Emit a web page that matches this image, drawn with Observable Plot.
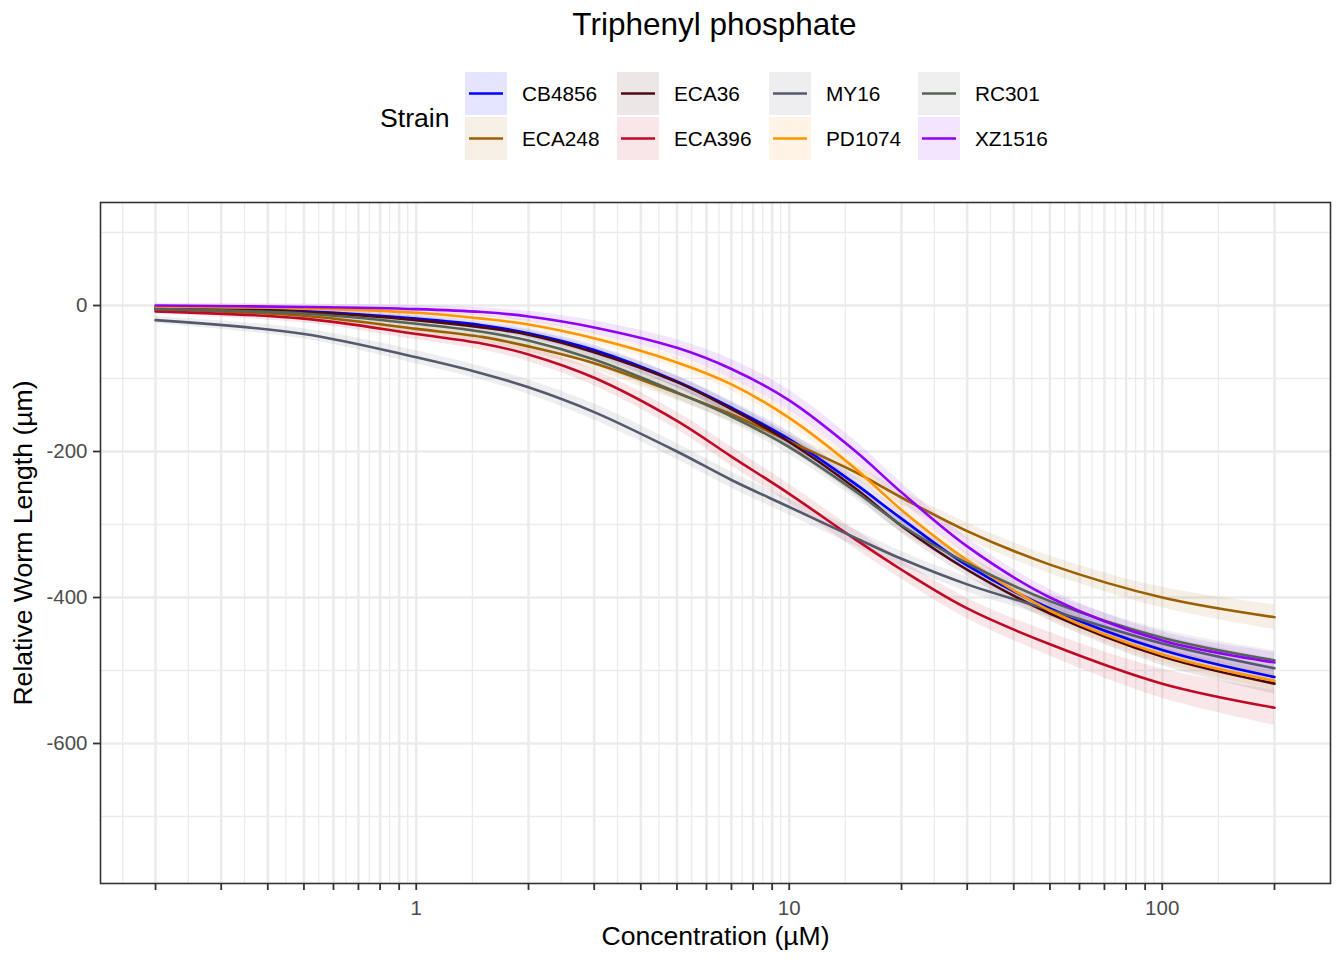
<!DOCTYPE html>
<html>
<head>
<meta charset="utf-8">
<script src="https://cdn.jsdelivr.net/npm/d3@7"></script>
<script src="https://cdn.jsdelivr.net/npm/@observablehq/plot@0.6"></script>
<style>
  body { margin: 0; background: #ffffff; font-family: "Liberation Sans", Arial, Helvetica, sans-serif; }
  #wrap { width: 1344px; }
  #header { display: block; }
</style>
</head>
<body>
<div id="wrap"></div>
<script>
// ---------------- data ----------------
const conc = [0.2, 0.5, 1, 1.5, 2, 3, 5, 7, 10, 15, 20, 30, 50, 100, 200];

const strains = ["CB4856", "ECA248", "ECA36", "ECA396", "MY16", "PD1074", "RC301", "XZ1516"];
const strainColors = ["#0000FF", "#9C5F00", "#4E0A12", "#BF0A26", "#55596C", "#FF9500", "#566357", "#8F00F5"];

const yCB4856 = [-3, -8, -18, -27, -38, -61, -104, -140, -183, -244, -292, -356, -415, -472, -509];
const yECA248 = [-5, -14, -32, -43, -56, -79, -120, -149, -186, -228, -263, -309, -355, -400, -427];
const yECA36  = [-4, -9, -20, -30, -40, -64, -105, -142, -187, -250, -302, -362, -422, -481, -518];
const yECA396 = [-8, -18, -39, -52, -67, -99, -158, -207, -258, -320, -362, -415, -464, -518, -551];
const yMY16   = [-20, -39, -71, -93, -112, -146, -200, -239, -276, -318, -347, -382, -417, -463, -497];
const yPD1074 = [-1.5, -4, -10, -18, -26, -45, -78, -108, -154, -223, -280, -349, -418, -478, -514];
const yRC301  = [-5, -11, -25, -36, -48, -74, -119, -152, -194, -254, -301, -353, -405, -455, -486];
const yXZ1516 = [0, -2, -5, -9, -15, -30, -58, -87, -130, -199, -256, -330, -400, -459, -489];

// half-width of the confidence ribbon
const hwCB4856 = [3, 4, 5, 5, 6, 7, 8, 9, 10, 10, 10, 9, 9, 10, 12];
const hwECA248 = [4, 5, 7, 7, 8, 9, 10, 10, 10, 10, 10, 11, 12, 14, 17];
const hwECA36  = [3, 4, 5, 5, 6, 7, 8, 9, 10, 10, 10, 9, 10, 12, 14];
const hwECA396 = [4, 6, 8, 9, 10, 11, 12, 13, 13, 13, 13, 14, 16, 20, 24];
const hwMY16   = [5, 7, 9, 9, 10, 11, 11, 11, 11, 11, 10, 10, 10, 11, 13];
const hwPD1074 = [3, 4, 5, 5, 6, 7, 8, 9, 10, 10, 10, 10, 10, 11, 13];
const hwRC301  = [3, 5, 6, 6, 7, 8, 9, 9, 10, 10, 9, 9, 10, 11, 13];
const hwXZ1516 = [3, 4, 5, 6, 7, 9, 11, 13, 14, 14, 13, 12, 11, 12, 14];

// axis breaks
const xBreaks = [0.2, 0.3, 0.4, 0.5, 0.6, 0.7, 0.8, 0.9, 1, 2, 3, 4, 5, 6, 7, 8, 9,
                 10, 20, 30, 40, 50, 60, 70, 80, 90, 100, 200];
const xLabels = [1, 10, 100];
const yBreaks = [-600, -400, -200, 0];
const yMinor = [-700, -500, -300, -100, 100];

const titleText = "Triphenyl phosphate";
const legendTitle = "Strain";
const xTitle = "Concentration (\u00B5M)";
const yTitle = "Relative Worm Length (\u00B5m)";

// ---------------- build table ----------------
const seriesY = [yCB4856, yECA248, yECA36, yECA396, yMY16, yPD1074, yRC301, yXZ1516];
const seriesHW = [hwCB4856, hwECA248, hwECA36, hwECA396, hwMY16, hwPD1074, hwRC301, hwXZ1516];
const rows = [];
strains.forEach((s, i) => {
  conc.forEach((c, j) => {
    const v = seriesY[i][j], h = seriesHW[i][j];
    rows.push({strain: s, conc: c, y: v, lo: v - h, hi: v + h});
  });
});

// minor x gridlines: geometric midpoints between breaks (ggplot style), plus one before the first
const xMinor = [];
xMinor.push(Math.sqrt(xBreaks[0] * xBreaks[0] * xBreaks[0] / xBreaks[1]));
for (let i = 1; i < xBreaks.length; i++) xMinor.push(Math.sqrt(xBreaks[i - 1] * xBreaks[i]));

const FONT = '"Liberation Sans", Arial, Helvetica, sans-serif';
const wrap = document.getElementById("wrap");

// ---------------- header: title + legend ----------------
const headerH = 170;
const hdr = d3.create("svg").attr("id", "header").attr("width", 1344).attr("height", headerH)
  .attr("font-family", FONT);
hdr.append("text").attr("x", 714.5).attr("y", 35).attr("text-anchor", "middle")
  .attr("font-size", 31.5).attr("fill", "#000").text(titleText);
hdr.append("text").attr("x", 380).attr("y", 126.5)
  .attr("font-size", 26.6).attr("fill", "#000").text(legendTitle);
const keyX = [465, 617, 769, 918];
const keyY = [72, 117];
const keyW = 42, keyH = 43;
strains.forEach((s, i) => {
  const col = Math.floor(i / 2), row = i % 2;
  const g = hdr.append("g").attr("transform", `translate(${keyX[col]},${keyY[row]})`);
  g.append("rect").attr("width", keyW).attr("height", keyH).attr("fill", strainColors[i]).attr("fill-opacity", 0.1);
  g.append("line").attr("x1", 4).attr("x2", keyW - 4).attr("y1", keyH / 2).attr("y2", keyH / 2)
    .attr("stroke", strainColors[i]).attr("stroke-width", 2.6);
  g.append("text").attr("x", 57).attr("y", keyH / 2 + 7.3).attr("font-size", 20.8).attr("fill", "#000").text(s);
});
wrap.appendChild(hdr.node());

// ---------------- chart ----------------
const grid = "#EBEBEB";
const chart = Plot.plot({
  width: 1344,
  height: 790,
  marginTop: 32,
  marginBottom: 77,
  marginLeft: 100,
  marginRight: 14,
  style: {fontFamily: FONT, fontSize: "20.5px", background: "#ffffff", overflow: "visible"},
  x: {type: "log", domain: [0.1424, 282.6]},
  y: {domain: [-791.8, 141.1]},
  color: {domain: strains, range: strainColors},
  marks: [
    Plot.ruleX(xMinor, {stroke: grid, strokeWidth: 1.3}),
    Plot.ruleX(xBreaks, {stroke: grid, strokeWidth: 2.5}),
    Plot.ruleY(yMinor, {stroke: grid, strokeWidth: 1.3}),
    Plot.ruleY(yBreaks, {stroke: grid, strokeWidth: 2.5}),
    Plot.areaY(rows, {x: "conc", y1: "lo", y2: "hi", z: "strain", fill: "strain", fillOpacity: 0.1, curve: "catmull-rom"}),
    Plot.lineY(rows, {x: "conc", y: "y", z: "strain", stroke: "strain", strokeWidth: 2.6, curve: "catmull-rom"}),
    Plot.frame({stroke: "#333333", strokeWidth: 1.6}),
    Plot.axisX({ticks: xBreaks, tickFormat: d => xLabels.includes(d) ? String(d) : "",
                tickSize: 7, tickPadding: 10, stroke: "#333333", strokeWidth: 1.8, fill: "#4D4D4D",
                fontSize: 20.5, label: null}),
    Plot.axisY({ticks: yBreaks, tickFormat: d => String(d),
                tickSize: 7, tickPadding: 6, stroke: "#333333", strokeWidth: 1.8, fill: "#4D4D4D",
                fontSize: 20.5, label: null}),
    Plot.text([xTitle], {frameAnchor: "bottom", dy: 53, lineAnchor: "middle", textAnchor: "middle",
                         fontSize: 26.6, fill: "#000"}),
    Plot.text([yTitle], {frameAnchor: "left", dx: -77, rotate: -90, lineAnchor: "middle", textAnchor: "middle",
                         fontSize: 26.6, fill: "#000"})
  ]
});
wrap.appendChild(chart);
</script>
</body>
</html>
